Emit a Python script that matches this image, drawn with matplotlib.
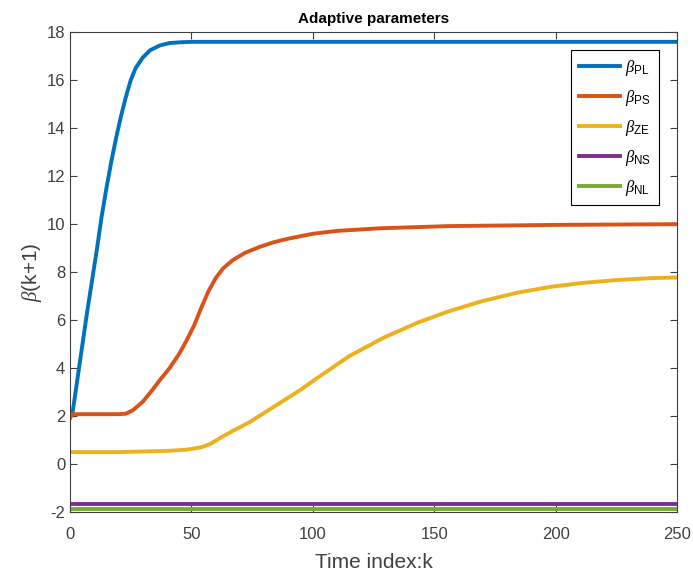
import matplotlib
matplotlib.use("Agg")
import matplotlib.pyplot as plt

plt.rcParams['font.family'] = ['Liberation Sans', 'DejaVu Sans']
plt.rcParams['mathtext.fontset'] = 'custom'
plt.rcParams['mathtext.rm'] = 'Liberation Sans'
plt.rcParams['mathtext.it'] = 'Liberation Serif:italic'
plt.rcParams['axes.unicode_minus'] = False

# values
k_pl = [1, 3, 5, 7, 9, 11, 13, 15, 17, 19, 21, 23, 25, 27, 30, 33, 37, 41, 45, 50, 60, 100, 250]
beta_pl = [2.1, 3.5, 4.9, 6.3, 7.6, 8.9, 10.3, 11.5, 12.6, 13.6, 14.5, 15.3, 16.0, 16.5,
           16.95, 17.25, 17.45, 17.55, 17.58, 17.6, 17.6, 17.6, 17.6]

k_ps = [0, 1, 10, 20, 23, 26, 30, 34, 37, 41, 45, 48, 51, 54, 57, 60, 63, 67, 72, 78,
        84, 90, 100, 110, 128, 156, 200, 250]
beta_ps = [1.9, 2.08, 2.08, 2.08, 2.1, 2.25, 2.6, 3.1, 3.5, 4.0, 4.6, 5.15, 5.75, 6.5,
           7.2, 7.75, 8.15, 8.5, 8.8, 9.05, 9.25, 9.4, 9.6, 9.72, 9.83, 9.92, 9.97, 10.0]

k_ze = [0, 20, 40, 48, 54, 58, 62, 67, 74, 81, 88, 95, 102, 115, 129, 143, 156, 170,
        184, 198, 211, 225, 239, 250]
beta_ze = [0.5, 0.5, 0.55, 0.6, 0.7, 0.85, 1.1, 1.38, 1.75, 2.2, 2.65, 3.1, 3.6, 4.5,
           5.26, 5.89, 6.37, 6.8, 7.14, 7.39, 7.55, 7.67, 7.75, 7.78]

k_flat = [0, 250]
beta_ns = [-1.65, -1.65]
beta_nl = [-1.88, -1.88]

labels = [r'$\it{\beta}_{\mathrm{PL}}$', r'$\it{\beta}_{\mathrm{PS}}$', r'$\it{\beta}_{\mathrm{ZE}}$',
          r'$\it{\beta}_{\mathrm{NS}}$', r'$\it{\beta}_{\mathrm{NL}}$']
colors = ['#0072BD', '#D95319', '#EDB120', '#7E2F8E', '#77AC30']

fig = plt.figure(figsize=(6.93, 5.76), dpi=100)
ax = fig.add_axes([0.101, 0.111, 0.876, 0.833])

lw = 2.8
ax.plot(k_pl, beta_pl, color=colors[0], lw=lw, label=labels[0])
ax.plot(k_ps, beta_ps, color=colors[1], lw=lw, label=labels[1])
ax.plot(k_ze, beta_ze, color=colors[2], lw=lw, label=labels[2])
ax.plot(k_flat, beta_ns, color=colors[3], lw=lw, label=labels[3])
ax.plot(k_flat, beta_nl, color=colors[4], lw=lw, label=labels[4])

ax.set_xlim(0, 250)
ax.set_ylim(-2, 18)
ax.set_xticks([0, 50, 100, 150, 200, 250])
ax.set_yticks(range(-2, 19, 2))
ax.tick_params(direction='in', top=True, right=True, labelsize=12,
               colors='#404040', length=5, width=0.8)
ax.tick_params(axis='x', pad=11)
for s in ax.spines.values():
    s.set_color('#404040')
    s.set_linewidth(0.8)

ax.set_title('Adaptive parameters', fontsize=11, fontweight='bold', pad=7)
ax.set_xlabel('Time index:k', fontsize=15, color='#404040', labelpad=8)
ax.set_ylabel(r'$\it{\beta}$(k+1)', fontsize=15, color='#404040', labelpad=2)

leg = ax.legend(loc='upper right', bbox_to_anchor=(0.970, 0.9625), borderaxespad=0,
                fancybox=False, edgecolor='black', framealpha=1, fontsize=12,
                handlelength=2.5, labelspacing=0.6, borderpad=0.45, handletextpad=0.3)
leg.get_frame().set_linewidth(0.8)

fig.savefig('out.png', dpi=100)
